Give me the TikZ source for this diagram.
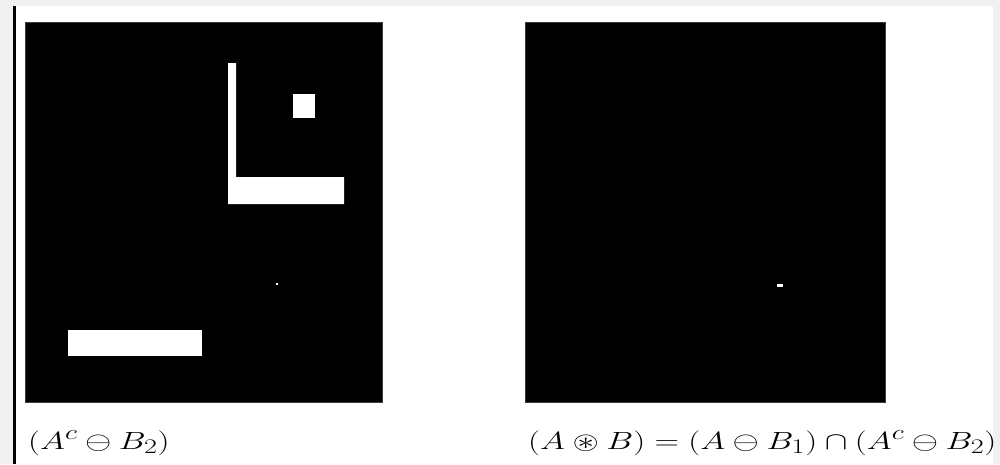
\documentclass[tikz,border=0pt]{standalone}
\usepackage{amsmath}
\usepackage{amssymb}
\usepackage{xcolor}
\usepackage{tikz}
\definecolor{grigio}{HTML}{F0F0F0}
\definecolor{bordo}{HTML}{3A3A3A}
\newcommand{\largo}[1]{\scalebox{1.36}[1]{#1}}

\begin{document}
\begin{tikzpicture}[
      x=1pt, y=-1pt,
      immagine/.style={fill=black, draw=bordo, line width=0.5pt},
      pixel/.style={fill=white, draw=none},
      didascalia/.style={anchor=base west, inner sep=0pt, font=\Huge}
    ]
    \useasboundingbox (0,0) rectangle (1000,464);
    % sfondo e cornice
    \fill[grigio] (0,0) rectangle (1000,464);
    \fill[white] (16,6) rectangle (993,464);
    \fill[black] (13,6) rectangle (16,464);
    % immagine di sinistra
    \draw[immagine] (25,22) rectangle (382,402);
    \fill[pixel] (228,63) -- (236,63) -- (236,177) -- (344,177) -- (344,204) -- (228,204) -- cycle;
    \fill[pixel] (293,94) rectangle (315,118);
    \fill[pixel] (68,330) rectangle (202,356);
    \fill[pixel] (276,283) rectangle (278,285);
    % immagine di destra
    \draw[immagine] (525,22) rectangle (885,402);
    \fill[pixel] (777,283.5) rectangle (783,286.5);
    % didascalie
    \node[didascalia] (testoA) at (28,449) {\largo{$(A^c \ominus B_2)$}};
    \node[didascalia] (testoB) at (528,449) {\largo{$(A \circledast B) = (A \ominus B_1) \cap (A^c \ominus B_2)$}};
  \end{tikzpicture}
\end{document}
